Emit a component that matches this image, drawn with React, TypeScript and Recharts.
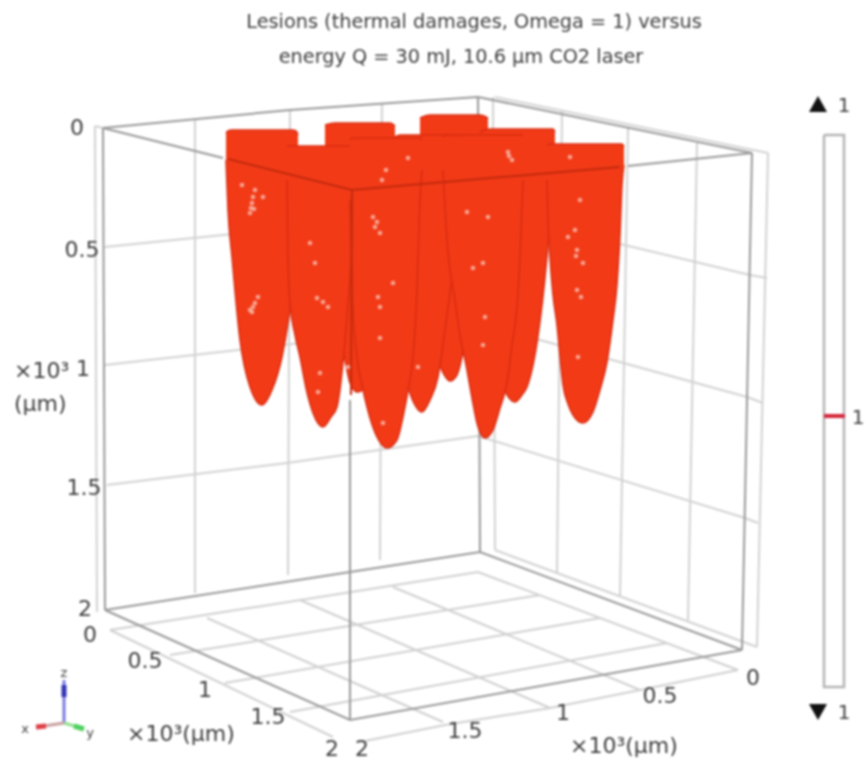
import { Area, ComposedChart, Line, Scatter, XAxis, YAxis } from "recharts";

type Pt = [number, number];
type Slice = [number, number, number];

const frameEdges: Pt[][] = [
  [[103, 128], [290, 110], [478, 97], [752, 153]],
  [[103, 128], [223, 158]],
  [[628, 166], [752, 153]],
  [[103, 128], [105, 610]],
  [[752, 153], [742, 650]],
  [[105, 610], [350, 572], [480, 552], [742, 650]],
  [[105, 610], [350, 720], [742, 650]],
  [[478, 97], [480, 552]],
  [[350, 400], [350, 720]],
];
const redEdges: Pt[][] = [
  [[228, 159], [352, 190], [620, 167]],
  [[352, 190], [351, 395]],
];
const wallGrid: Pt[][] = [
  [[95, 126], [97, 612]],
  [[103, 128], [95, 126]],
  [[495, 97], [768, 153]],
  [[768, 153], [757, 647]],
  [[495, 550], [757, 647]],
  [[493, 97], [495, 550]],
  [[195, 120], [195, 593]],
  [[290, 110], [288, 575]],
  [[382, 103], [380, 560]],
  [[562, 110], [557, 572]],
  [[628, 128], [620, 597]],
  [[697, 143], [688, 620]],
  [[105, 247], [223, 235], [478, 210], [750, 275], [767, 278]],
  [[105, 365], [478, 323], [747, 397], [763, 403]],
  [[107, 485], [287, 463], [478, 436], [745, 518], [758, 523]],
];
const floorGrid: Pt[][] = [
  [[110, 630], [478, 572], [738, 670]],
  [[170, 655], [540, 595]],
  [[225, 683], [600, 618]],
  [[290, 712], [667, 643]],
  [[738, 670], [640, 690], [550, 708], [445, 725], [360, 742]],
  [[393, 587], [640, 690]],
  [[300, 600], [550, 708]],
  [[207, 618], [443, 722]],
  [[110, 630], [333, 737]],
];

// lesions back to front: x, top of the cap, lower outline
const lesionBackA: Slice[] = [[325, 125, 160], [335, 123, 300], [345, 123, 360], [350, 123, 383], [357, 123, 392], [365, 123, 388], [375, 123, 340], [390, 123, 200], [395, 126, 150]];
const lesionBackB: Slice[] = [[420, 118, 160], [430, 115, 300], [440, 115, 365], [445, 115, 376], [450, 115, 381], [457, 115, 375], [465, 115, 340], [480, 115, 200], [488, 118, 150]];
const lesionMidRight: Slice[] = [[480, 132, 170], [490, 129, 300], [500, 129, 370], [507, 129, 395], [515, 129, 402], [522, 129, 395], [527, 129, 387], [537, 129, 343], [547, 129, 257], [553, 129, 180], [555, 132, 150]];
const lesionMid: Slice[] = [[395, 137, 170], [400, 135, 300], [407, 135, 380], [415, 135, 405], [422, 135, 412], [430, 135, 400], [438, 135, 377], [445, 135, 330], [455, 135, 250], [462, 135, 170]];
const lesionLeft: Slice[] = [[226, 133, 160], [228, 131, 210], [232, 130, 257], [240, 130, 340], [250, 130, 387], [262, 130, 405], [272, 130, 390], [282, 130, 357], [288, 130, 323], [292, 130, 290], [296, 131, 200], [298, 135, 165]];
const lesionFarRight: Slice[] = [[547, 146, 180], [548, 145, 220], [550, 144, 258], [553, 144, 295], [557, 144, 325], [560, 144, 357], [563, 144, 385], [568, 144, 404], [573, 144, 415], [583, 144, 423], [593, 144, 412], [600, 144, 390], [607, 144, 362], [613, 144, 320], [617, 144, 285], [620, 144, 235], [622, 144, 185], [624, 147, 165]];
const lesionFrontLeft: Slice[] = [[287, 147, 180], [288, 146, 260], [290, 146, 303], [295, 146, 335], [300, 146, 357], [306, 146, 388], [313, 146, 413], [323, 146, 427], [331, 146, 417], [337, 146, 407], [343, 146, 363], [348, 146, 303], [352, 146, 250], [356, 146, 180]];
const lesionFrontRight: Slice[] = [[443, 137, 170], [447, 135, 240], [455, 135, 300], [460, 135, 335], [467, 135, 370], [472, 135, 398], [477, 135, 423], [485, 135, 438], [493, 135, 430], [500, 135, 408], [507, 135, 383], [512, 135, 345], [517, 135, 307], [520, 135, 257], [523, 135, 180]];
const lesionCentre: Slice[] = [[350, 140, 200], [352, 138, 290], [357, 138, 357], [362, 138, 385], [367, 138, 407], [377, 138, 437], [387, 138, 448], [397, 138, 440], [403, 138, 417], [409, 138, 385], [413, 138, 357], [417, 138, 290], [420, 138, 200], [422, 140, 170]];
const lesions = [lesionBackA, lesionBackB, lesionMidRight, lesionMid, lesionLeft, lesionFarRight, lesionFrontLeft, lesionFrontRight, lesionCentre];

const flecks: Pt[] = [
  [242, 185], [252, 203], [250, 213], [263, 197], [255, 190], [253, 197], [251, 208], [254, 209], [253, 307], [258, 297],
  [250, 310], [255, 303], [252, 312], [310, 243], [315, 263], [317, 298], [323, 302], [328, 307], [320, 373], [318, 392],
  [382, 180], [386, 170], [408, 158], [373, 217], [375, 227], [380, 233], [377, 222], [380, 307], [378, 297], [393, 283],
  [383, 423], [380, 338], [473, 268], [483, 263], [485, 317], [483, 345], [467, 212], [488, 217], [508, 152], [512, 160],
  [509, 156], [570, 157], [577, 250], [575, 230], [568, 237], [580, 200], [577, 290], [581, 297], [578, 357], [583, 263],
  [576, 256], [418, 367], [348, 367],
];

const colorBar: Pt[] = [[824, 135], [844, 135], [844, 687], [824, 687], [824, 135]];
const colorBarMark: Pt[] = [[824, 416], [845, 416]];
const triadArms: { color: string; pts: Pt[] }[] = [
  { color: "#7a7ae0", pts: [[64, 723], [64, 680]] },
  { color: "#3535b5", pts: [[64, 697], [64, 685]] },
  { color: "#c9a0a0", pts: [[64, 723], [44, 726]] },
  { color: "#e04048", pts: [[46, 726], [36, 727]] },
  { color: "#90e090", pts: [[64, 723], [78, 727]] },
  { color: "#50d060", pts: [[74, 726], [84, 729]] },
];
const triangleUp: Pt[] = [[818, 104]];
const triangleDown: Pt[] = [[818, 712]];

type Label = { x: number; y: number; text: string; size: number; anchor?: string };
const titleLabels: Label[] = [
  { x: 474, y: 21, text: "Lesions (thermal damages, Omega = 1) versus", size: 19.3 },
  { x: 461, y: 56, text: "energy Q = 30 mJ, 10.6 µm CO2 laser", size: 19.3 },
];
const tickLabels: Label[] = [
  { x: 77, y: 127, text: "0", size: 22 },
  { x: 82, y: 249, text: "0.5", size: 22 },
  { x: 83, y: 368, text: "1", size: 22 },
  { x: 84, y: 487, text: "1.5", size: 22 },
  { x: 85, y: 608, text: "2", size: 22 },
  { x: 90, y: 634, text: "0", size: 22 },
  { x: 145, y: 660, text: "0.5", size: 22 },
  { x: 205, y: 689, text: "1", size: 22 },
  { x: 268, y: 716, text: "1.5", size: 22 },
  { x: 332, y: 748, text: "2", size: 22 },
  { x: 362, y: 748, text: "2", size: 22 },
  { x: 465, y: 730, text: "1.5", size: 22 },
  { x: 563, y: 712, text: "1", size: 22 },
  { x: 660, y: 695, text: "0.5", size: 22 },
  { x: 753, y: 677, text: "0", size: 22 },
  { x: 844, y: 105, text: "1", size: 20 },
  { x: 858, y: 417, text: "1", size: 20 },
  { x: 844, y: 712, text: "1", size: 20 },
];
const unitLabels: Label[] = [
  { x: 14, y: 370, text: "×10³", size: 22, anchor: "start" },
  { x: 14, y: 403, text: "(µm)", size: 22, anchor: "start" },
  { x: 127, y: 733, text: "×10³(µm)", size: 22, anchor: "start" },
  { x: 570, y: 745, text: "×10³(µm)", size: 22, anchor: "start" },
];
const triadLabels: Label[] = [
  { x: 64, y: 672, text: "z", size: 13 },
  { x: 25, y: 728, text: "x", size: 13 },
  { x: 90, y: 732, text: "y", size: 13 },
];

const points = (pts: Pt[]) => pts.map(([x, y]) => ({ x, y }));
const slices = (rows: Slice[]) => rows.map(([x, top, bottom]) => ({ x, range: [top, bottom] }));

const TextMark = (props: any) => {
  const { cx, cy, payload } = props;
  return (
    <text
      x={cx}
      y={cy}
      dy="0.36em"
      textAnchor={payload.anchor ?? "middle"}
      fontFamily="'DejaVu Sans'"
      fontSize={payload.size}
      fill="#3e3e3e"
    >
      {payload.text}
    </text>
  );
};
const FleckMark = (props: any) => (
  <circle cx={props.cx} cy={props.cy} r={2.3} fill="#f9b8a8" fillOpacity={0.85} />
);
const UpMark = (props: any) => (
  <polygon
    points={`${props.cx - 9},${props.cy + 8} ${props.cx + 9},${props.cy + 8} ${props.cx},${props.cy - 8}`}
    fill="#111"
  />
);
const DownMark = (props: any) => (
  <polygon
    points={`${props.cx - 9},${props.cy - 8} ${props.cx + 9},${props.cy - 8} ${props.cx},${props.cy + 8}`}
    fill="#111"
  />
);

const polyLine = (pts: Pt[], key: string, stroke: string, width: number, zIndex: number) => (
  <Line
    key={key}
    data={points(pts)}
    dataKey="y"
    stroke={stroke}
    strokeWidth={width}
    dot={false}
    activeDot={false}
    legendType="none"
    isAnimationActive={false}
    zIndex={zIndex}
  />
);

export default function App() {
  return (
    <div style={{ position: "absolute", left: 0, top: 0, width: 866, height: 770, background: "#fff", filter: "blur(1.1px)" }}>
      <ComposedChart width={866} height={770} margin={{ top: 0, right: 0, bottom: 0, left: 0 }}>
        <XAxis dataKey="x" type="number" scale="linear" domain={[0, 866]} allowDataOverflow hide />
        <YAxis dataKey="y" type="number" scale="linear" domain={[0, 770]} allowDataOverflow reversed hide />

        {wallGrid.map((pts, i) => polyLine(pts, `wall-${i}`, "#d2d2d2", 2, 40))}
        {floorGrid.map((pts, i) => polyLine(pts, `floor-${i}`, "#d0d0d0", 2, 40))}
        {frameEdges.map((pts, i) => polyLine(pts, `frame-${i}`, "#999999", 2, 50))}

        {lesions.map((rows, i) => (
          <Area
            key={`lesion-${i}`}
            data={slices(rows)}
            dataKey="range"
            type="monotone"
            stroke="#d92c10"
            strokeWidth={1.5}
            fill="#f23a17"
            fillOpacity={1}
            dot={false}
            activeDot={false}
            legendType="none"
            isAnimationActive={false}
            zIndex={100}
          />
        ))}
        {redEdges.map((pts, i) => polyLine(pts, `red-${i}`, "#c22a0e", 2, 400))}
        <Scatter data={points(flecks)} shape={FleckMark} isAnimationActive={false} zIndex={600} />

        {polyLine(colorBar, "bar", "#b4b4b4", 2.5, 400)}
        {polyLine(colorBarMark, "bar-mark", "#d5283c", 4, 400)}
        {triadArms.map((arm, i) => polyLine(arm.pts, `triad-${i}`, arm.color, i % 2 ? 5 : 3, 400))}

        <Scatter data={points(triangleUp)} shape={UpMark} isAnimationActive={false} zIndex={600} />
        <Scatter data={points(triangleDown)} shape={DownMark} isAnimationActive={false} zIndex={600} />
        <Scatter data={titleLabels} shape={TextMark} isAnimationActive={false} zIndex={600} />
        <Scatter data={tickLabels} shape={TextMark} isAnimationActive={false} zIndex={600} />
        <Scatter data={unitLabels} shape={TextMark} isAnimationActive={false} zIndex={600} />
        <Scatter data={triadLabels} shape={TextMark} isAnimationActive={false} zIndex={600} />
      </ComposedChart>
    </div>
  );
}
